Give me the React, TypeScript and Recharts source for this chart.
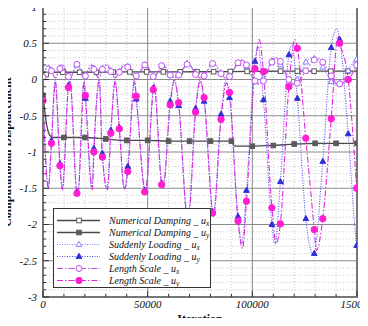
import React from 'react';
import { LineChart, Line, XAxis, YAxis, ReferenceLine, ReferenceArea } from 'recharts';

// [iteration, displacement, marker flag]
type Pt = [number, number, number?];

const xMajorTicks = [0, 50000, 100000, 150000];
const yMajorTicks = [-3, -2.5, -2, -1.5, -1, -0.5, 0, 0.5, 1];
const xMinorStep = 10000;
const yMinorStep = 0.1;
const xTitle = 'Iteration';
const yTitle = 'Computational Displacement';

// Numerical Damping
const dampingUx: Pt[] = [
  [0, 0.03], [1500, 0.07, 1], [3000, 0.095], [5000, 0.1], [9500, 0.1, 1], [17500, 0.1, 1],
  [25500, 0.102, 1], [33500, 0.103, 1], [41500, 0.105, 1], [49500, 0.105, 1], [57500, 0.105, 1],
  [65500, 0.106, 1], [73500, 0.107, 1], [81500, 0.108, 1], [89500, 0.11, 1], [97500, 0.112, 1],
  [105500, 0.114, 1], [113500, 0.115, 1], [121500, 0.115, 1], [129500, 0.115, 1],
  [137500, 0.115, 1], [145500, 0.115, 1], [150000, 0.115],
];
const dampingUy: Pt[] = [
  [0, -0.22, 1], [800, -0.42], [1600, -0.6], [2500, -0.72], [3500, -0.78], [5000, -0.8],
  [10000, -0.8, 1], [20000, -0.8, 1], [30000, -0.82, 1], [40000, -0.84, 1], [50000, -0.84, 1],
  [60000, -0.85, 1], [70000, -0.85, 1], [80000, -0.85, 1], [90000, -0.85, 1], [90600, -0.86],
  [91400, -0.92], [100000, -0.92, 1], [110000, -0.91, 1], [120000, -0.89, 1], [130000, -0.88, 1],
  [140000, -0.88, 1], [150000, -0.88, 1],
];

// Suddenly Loading
const loadingUx: Pt[] = [
  [0, 0.04, 1], [2500, 0.2], [4050, 0.13, 1], [5800, 0.03], [8100, 0.16, 1], [9200, 0.21],
  [12150, 0.05, 1], [12800, 0.03], [16200, 0.2, 1], [16600, 0.21], [19500, 0.03], [20250, 0.06, 1],
  [23200, 0.21], [24300, 0.15, 1], [26800, 0.03], [28350, 0.15, 1], [30400, 0.21], [32400, 0.12, 1],
  [34500, 0.03], [36450, 0.11, 1], [38600, 0.21], [40500, 0.18, 1], [43600, 0.03], [44550, 0.06, 1],
  [48600, 0.2, 1], [48900, 0.21], [52650, 0.05, 1], [53000, 0.04], [56700, 0.19, 1], [57300, 0.21],
  [60750, 0.07, 1], [62700, 0.03], [64800, 0.07, 1], [68850, 0.22, 1], [69300, 0.23], [72900, 0.08, 1],
  [74900, 0.03], [76950, 0.06, 1], [81000, 0.22, 1], [81300, 0.23], [85050, 0.09, 1], [87400, 0.02],
  [89100, 0.05, 1], [93150, 0.22, 1], [95000, 0.27], [97200, 0.18, 1], [101250, -0.03, 1],
  [102800, -0.06], [105300, 0.02, 1], [109350, 0.26, 1], [110800, 0.3], [113400, 0.2, 1],
  [117450, -0.04, 1], [118900, -0.07], [121500, 0.0, 1], [125550, 0.24, 1], [128900, 0.3],
  [129600, 0.29, 1], [133650, 0.17, 1], [137700, -0.03, 1], [140300, -0.08], [141750, -0.05, 1],
  [145800, 0.12, 1], [149850, 0.28, 1], [150000, 0.28],
];
const loadingUy: Pt[] = [
  [0, -0.26, 1], [2500, -1.48], [4050, -0.84, 1], [5800, -0.01], [8100, -1.16, 1], [9200, -1.5],
  [12150, -0.08, 1], [12800, 0.0], [16200, -1.55, 1], [16600, -1.57], [19500, -0.02], [20250, -0.26, 1],
  [23300, -1.5], [24300, -0.95, 1], [26800, 0.0], [28350, -1.02, 1], [30600, -1.5], [32400, -0.7, 1],
  [34400, -0.02], [36450, -0.66, 1], [38800, -1.5], [40500, -1.2, 1], [43600, -0.01], [44550, -0.27, 1],
  [48600, -1.53, 1], [48900, -1.55], [52650, -0.12, 1], [53000, -0.04], [56700, -1.43, 1],
  [57300, -1.5], [60750, -0.3, 1], [62700, 0.0], [64800, -0.36, 1], [68850, -1.88, 1], [69300, -1.9],
  [72900, -0.4, 1], [74900, -0.01], [76950, -0.3, 1], [81000, -1.82, 1], [81300, -1.86],
  [85050, -0.48, 1], [87400, -0.02], [89100, -0.25, 1], [93150, -1.89, 1], [95000, -2.26],
  [97200, -1.53, 1], [101250, 0.25, 1], [102800, 0.45], [105300, -0.28, 1], [109350, -2.0, 1],
  [110800, -2.27], [113400, -1.41, 1], [117450, 0.34, 1], [118900, 0.47], [121500, -0.26, 1],
  [125550, -1.92, 1], [129100, -2.42], [129600, -2.4, 1], [133650, -1.13, 1], [137700, 0.44, 1],
  [140300, 0.7], [141750, 0.55, 1], [145800, -0.75, 1], [149850, -2.29, 1], [150000, -2.32],
];

// Length Scale
const lengthUx: Pt[] = [
  [0, 0.03, 1], [2600, 0.19], [4050, 0.12, 1], [5900, 0.02], [8100, 0.15, 1], [9300, 0.2],
  [12150, 0.04, 1], [12900, 0.02], [16200, 0.21, 1], [16700, 0.21], [19700, 0.02], [20250, 0.05, 1],
  [23600, 0.2], [24300, 0.14, 1], [26900, 0.02], [28350, 0.14, 1], [30800, 0.2], [32400, 0.11, 1],
  [34500, 0.02], [36450, 0.1, 1], [38900, 0.2], [40500, 0.17, 1], [43800, 0.02], [44550, 0.05, 1],
  [48600, 0.2, 1], [48800, 0.21], [52650, 0.04, 1], [53000, 0.03], [56700, 0.19, 1], [57400, 0.2],
  [60750, 0.06, 1], [62800, 0.02], [64800, 0.06, 1], [68850, 0.21, 1], [69400, 0.22], [72900, 0.07, 1],
  [75000, 0.02], [76950, 0.05, 1], [81000, 0.22, 1], [81400, 0.22], [85050, 0.08, 1], [87600, 0.01],
  [89100, 0.04, 1], [93150, 0.23, 1], [95300, 0.27], [97200, 0.2, 1], [101250, -0.02, 1],
  [103300, -0.07], [105300, -0.02, 1], [109350, 0.24, 1], [111400, 0.3], [113400, 0.25, 1],
  [117450, 0.0, 1], [120300, -0.07], [121500, -0.05, 1], [125550, 0.12, 1], [129600, 0.27, 1],
  [130600, 0.29], [133650, 0.24, 1], [137700, 0.05, 1], [140900, -0.07], [141750, -0.06, 1],
  [145800, 0.0, 1], [149850, 0.2, 1], [150000, 0.21],
];
const lengthUy: Pt[] = [
  [0, -0.29, 1], [2600, -1.5], [4050, -0.88, 1], [5900, -0.03], [8100, -1.19, 1], [9300, -1.52],
  [12150, -0.11, 1], [12900, -0.02], [16200, -1.57, 1], [16700, -1.59], [19700, -0.03],
  [20250, -0.22, 1], [23600, -1.52], [24300, -1.0, 1], [26900, -0.02], [28350, -1.07, 1],
  [30800, -1.52], [32400, -0.74, 1], [34500, -0.03], [36450, -0.68, 1], [38900, -1.52],
  [40500, -1.27, 1], [43800, -0.02], [44550, -0.23, 1], [48600, -1.55, 1], [48800, -1.57],
  [52650, -0.14, 1], [53000, -0.06], [56700, -1.45, 1], [57400, -1.5], [60750, -0.35, 1],
  [62800, -0.02], [64800, -0.32, 1], [68850, -1.9, 1], [69400, -1.92], [72900, -0.45, 1],
  [75000, -0.02], [76950, -0.25, 1], [81000, -1.84, 1], [81400, -1.9], [85050, -0.55, 1],
  [87600, -0.05], [89100, -0.18, 1], [93150, -1.95, 1], [95300, -2.33], [97200, -1.68, 1],
  [101250, 0.15, 1], [103300, 0.55], [105300, 0.11, 1], [109350, -1.77, 1], [111400, -2.26],
  [113400, -1.99, 1], [117450, -0.1, 1], [120300, 0.55], [121500, 0.43, 1], [125550, -0.81, 1],
  [129600, -2.07, 1], [130600, -2.36], [133650, -1.92, 1], [137700, -0.54, 1], [140900, 0.6],
  [141750, 0.5, 1], [145800, 0.0, 1], [149850, -1.5, 1], [150000, -1.56],
];

type Shape = 'square' | 'triangle' | 'circle';

interface Series {
  key: string;
  name: string;
  sub: string;
  points: Pt[];
  color: string;
  markColor: string;
  dash?: string;
  width: number;
  shape: Shape;
  filled: boolean;
}

const series: Series[] = [
  { key: 'ndx', name: 'Numerical Damping _ u', sub: 'x', points: dampingUx, color: '#4a4a4a', markColor: '#5a5a5a', width: 1.3, shape: 'square', filled: false },
  { key: 'ndy', name: 'Numerical Damping _ u', sub: 'y', points: dampingUy, color: '#4a4a4a', markColor: '#5a5a5a', width: 1.3, shape: 'square', filled: true },
  { key: 'slx', name: 'Suddenly Loading _ u', sub: 'x', points: loadingUx, color: '#8484ff', markColor: '#8a7cff', dash: '1 1.5', width: 1.1, shape: 'triangle', filled: false },
  { key: 'sly', name: 'Suddenly Loading _ u', sub: 'y', points: loadingUy, color: '#5050f0', markColor: '#2f2fd8', dash: '1 1.5', width: 1.1, shape: 'triangle', filled: true },
  { key: 'lsx', name: 'Length Scale _ u', sub: 'x', points: lengthUx, color: '#c84ae8', markColor: '#c050f0', dash: '6 2 1.5 2', width: 1.1, shape: 'circle', filled: false },
  { key: 'lsy', name: 'Length Scale _ u', sub: 'y', points: lengthUy, color: '#e028e0', markColor: '#ff1ed2', dash: '6 2 1.5 2', width: 1.1, shape: 'circle', filled: true },
];

const SERIF = '"Liberation Serif", "Times New Roman", serif';

function Marker({ shape, x, y, color, filled }: { shape: Shape; x: number; y: number; color: string; filled: boolean }) {
  const fill = filled ? color : '#ffffff';
  if (shape === 'square') {
    return <rect x={x - 2.3} y={y - 2.3} width={4.6} height={4.6} fill={fill} stroke={color} strokeWidth={1} />;
  }
  if (shape === 'triangle') {
    const s = 3.2;
    return (
      <polygon
        points={`${x},${y - s} ${x - s * 0.9},${y + s * 0.6} ${x + s * 0.9},${y + s * 0.6}`}
        fill={fill}
        stroke={color}
        strokeWidth={1}
      />
    );
  }
  return <circle cx={x} cy={y} r={filled ? 3.2 : 3} fill={fill} stroke={color} strokeWidth={1} />;
}

const makeDot = (s: Series) => (props: any) => {
  const { cx, cy, payload, index } = props;
  if (!payload || !payload.m || cx == null || cy == null) return <g key={`${s.key}-${index}`} />;
  return (
    <g key={`${s.key}-${index}`}>
      <Marker shape={s.shape} x={cx} y={cy} color={s.markColor} filled={s.filled} />
    </g>
  );
};

const isMajorY = (v: number) => Math.abs(v * 2 - Math.round(v * 2)) < 1e-6;
const isMajorX = (v: number) => v % 50000 === 0;

const yAllTicks: number[] = [];
for (let i = 0; i <= 40; i++) yAllTicks.push(Math.round((-3 + i * yMinorStep) * 10) / 10);
const xAllTicks: number[] = [];
for (let v = 0; v <= 150000; v += xMinorStep) xAllTicks.push(v);

const yMinorLines = yAllTicks.filter((v) => !isMajorY(v));
const xMinorLines = xAllTicks.filter((v) => !isMajorX(v));

function YTick(props: any) {
  const { x, y, payload } = props;
  const v = payload.value as number;
  const major = isMajorY(v);
  return (
    <g>
      <line x1={x} x2={x + (major ? 6 : 3)} y1={y} y2={y} stroke="#333" strokeWidth={1} />
      {major && (
        <text x={x - 6} y={y} dy="0.35em" textAnchor="end" fontFamily={SERIF} fontStyle="italic" fontSize={11} fill="#111">
          {String(v)}
        </text>
      )}
    </g>
  );
}

function XTick(props: any) {
  const { x, y, payload } = props;
  const v = payload.value as number;
  const major = isMajorX(v);
  return (
    <g>
      <line x1={x} x2={x} y1={y} y2={y - (major ? 6 : 3)} stroke="#333" strokeWidth={1} />
      {major && (
        <text x={x} y={y + 11} textAnchor="middle" fontFamily={SERIF} fontStyle="italic" fontSize={11} fill="#111">
          {String(v)}
        </text>
      )}
    </g>
  );
}

function AxisTitles() {
  return (
    <svg
      width={368}
      height={326}
      style={{ position: 'absolute', left: 0, top: 0, pointerEvents: 'none' }}
    >
      <text x={200} y={323} textAnchor="middle" fontFamily={SERIF} fontWeight="bold" fontSize={12} fill="#111">
        {xTitle}
      </text>
      <text
        x={11}
        y={152}
        transform="rotate(-90, 11, 152)"
        textAnchor="middle"
        fontFamily={SERIF}
        fontWeight="bold"
        fontSize={12}
        fill="#111"
      >
        {yTitle}
      </text>
    </svg>
  );
}

function LegendBox() {
  const rowY = (i: number) => 11.5 + i * 12;
  return (
    <div
      style={{
        position: 'absolute',
        left: 53,
        top: 208,
        width: 158,
        height: 80,
        background: '#ffffff',
        border: '1px solid #333',
        boxSizing: 'border-box',
      }}
    >
      <svg width={156} height={78} style={{ display: 'block', overflow: 'visible' }}>
        {series.map((s, i) => (
          <g key={s.key}>
            <line x1={3} x2={46} y1={rowY(i)} y2={rowY(i)} stroke={s.color} strokeWidth={s.width} strokeDasharray={s.dash} />
            <Marker shape={s.shape} x={25} y={rowY(i)} color={s.markColor} filled={s.filled} />
            <text x={55} y={rowY(i) + 3.5} fontFamily={SERIF} fontStyle="italic" fontSize={10} fill="#111">
              {s.name}
              <tspan fontSize={7.5} dy={2}>{s.sub}</tspan>
            </text>
          </g>
        ))}
      </svg>
    </div>
  );
}

export default function App() {
  return (
    <div style={{ position: 'relative', margin: -8, width: 368, height: 326, background: '#fff' }}>
      <LineChart width={368} height={326} margin={{ top: 7, right: 11, bottom: 0, left: 0 }}>
        <XAxis
          dataKey="it"
          type="number"
          domain={[0, 150000]}
          ticks={xAllTicks}
          interval={0}
          height={29}
          tickSize={0}
          tickMargin={0}
          tickLine={false}
          axisLine={false}
          tick={<XTick />}
          allowDataOverflow
        />
        <YAxis
          dataKey="v"
          type="number"
          domain={[-3, 1]}
          ticks={yAllTicks}
          interval={0}
          width={43}
          tickSize={0}
          tickMargin={0}
          tickLine={false}
          axisLine={false}
          tick={<YTick />}
          allowDataOverflow
        />
        {yMinorLines.map((v) => (
          <ReferenceLine key={`ym${v}`} y={v} stroke="#bdbdbd" strokeWidth={0.8} strokeDasharray="1 2" />
        ))}
        {xMinorLines.map((v) => (
          <ReferenceLine key={`xm${v}`} x={v} stroke="#bdbdbd" strokeWidth={0.8} strokeDasharray="1 2" />
        ))}
        {yMajorTicks.map((v) => (
          <ReferenceLine key={`yM${v}`} y={v} stroke="#8a8a8a" strokeWidth={1} />
        ))}
        {xMajorTicks.map((v) => (
          <ReferenceLine key={`xM${v}`} x={v} stroke="#8a8a8a" strokeWidth={1} />
        ))}
        {series.map((s) => (
          <Line
            key={s.key}
            data={s.points.map(([it, v, m]) => ({ it, v, m: m ? 1 : 0 }))}
            dataKey="v"
            type="monotone"
            stroke={s.color}
            strokeWidth={s.width}
            strokeDasharray={s.dash}
            dot={makeDot(s)}
            activeDot={false}
            isAnimationActive={false}
          />
        ))}
        <ReferenceArea x1={0} x2={150000} y1={-3} y2={1} fill="none" fillOpacity={0} stroke="#333" strokeWidth={1.5} />
      </LineChart>
      <AxisTitles />
      <LegendBox />
    </div>
  );
}
